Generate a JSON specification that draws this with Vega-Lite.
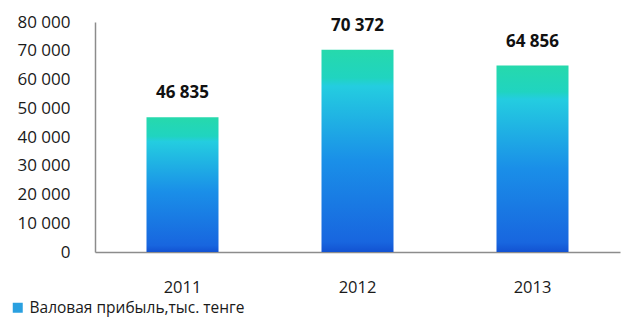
{
  "$schema": "https://vega.github.io/schema/vega-lite/v6.json",
  "width": 525,
  "height": 230,
  "autosize": {"type": "none"},
  "padding": {"left": 95, "top": 22, "right": 2, "bottom": 66},
  "background": "#ffffff",
  "config": {
    "view": {"stroke": null},
    "font": "Open Sans",
    "locale": {"number": {"decimal": ",", "thousands": " ", "grouping": [3], "currency": ["", ""]}}
  },
  "data": {
    "values": [
      {"year": "2011", "value": 46835, "series": "Валовая прибыль,тыс. тенге"},
      {"year": "2012", "value": 70372, "series": "Валовая прибыль,тыс. тенге"},
      {"year": "2013", "value": 64856, "series": "Валовая прибыль,тыс. тенге"}
    ]
  },
  "encoding": {
    "x": {
      "field": "year", "type": "nominal", "title": null,
      "axis": {"labelAngle": 0, "ticks": false, "domainColor": "#8c8c8c", "domainWidth": 1.5, "labelPadding": 27, "labelFontSize": 16.5, "labelColor": "#1a1a1a", "labelFont": "Open Sans"}
    },
    "y": {
      "field": "value", "type": "quantitative", "title": null,
      "scale": {"domain": [0, 80000]},
      "axis": {"values": [0, 10000, 20000, 30000, 40000, 50000, 60000, 70000, 80000], "labelExpr": "format(datum.value, ',d')", "grid": false, "ticks": false, "domainColor": "#8c8c8c", "domainWidth": 1.5, "labelPadding": 25, "labelFontSize": 17, "labelColor": "#1a1a1a", "labelFont": "Open Sans"}
    }
  },
  "layer": [
    {
      "mark": {
        "type": "bar", "width": 72,
        "fill": {"gradient": "linear", "x1": 0, "y1": 1, "x2": 0, "y2": 0,
          "stops": [
            {"offset": 0, "color": "#1252d2"},
            {"offset": 0.05, "color": "#1866df"},
            {"offset": 0.45, "color": "#1a8fe8"},
            {"offset": 0.82, "color": "#24cde0"},
            {"offset": 0.86, "color": "#20d4c0"},
            {"offset": 1, "color": "#26d9ac"}
          ]}
      },
      "encoding": {
        "color": {"field": "series", "type": "nominal", "scale": {"range": ["#2aa0e0"]},
          "legend": {"title": null, "orient": "none", "legendX": -85, "legendY": 278, "symbolType": "square", "symbolSize": 100, "symbolStrokeWidth": 0, "labelFontSize": 15.5, "labelColor": "#1a1a1a", "labelFont": "Open Sans", "labelLimit": 400, "labelOffset": 4}}
      }
    },
    {
      "mark": {"type": "text", "baseline": "bottom", "dy": -15, "fontSize": 17, "fontWeight": "bold", "color": "#111111", "font": "Open Sans"},
      "encoding": {
        "text": {"field": "value", "type": "quantitative", "format": ","}
      }
    }
  ]
}
